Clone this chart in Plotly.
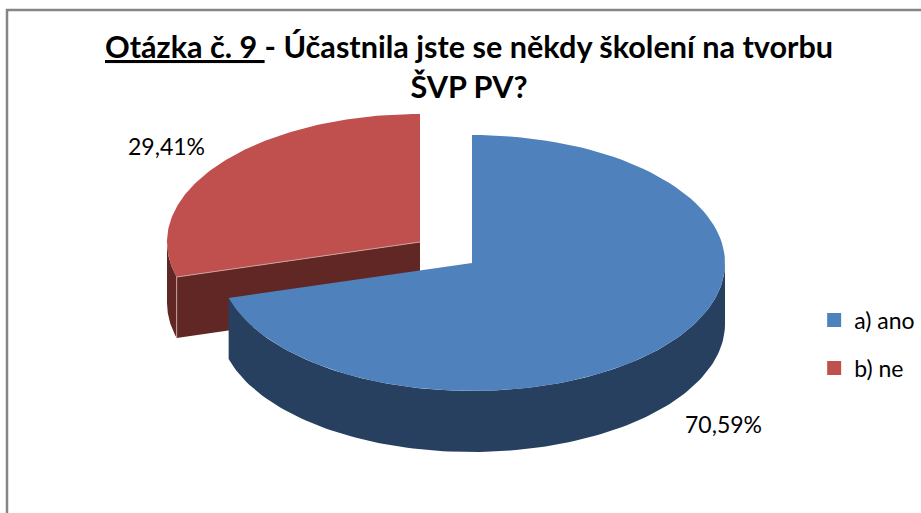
import numpy as np
import plotly.graph_objects as go

categories = ['a) ano', 'b) ne']
values = [70.59, 29.41]
top_colors = ['#4F81BD', '#C0504D']
wall_colors = ['#274060', '#612725']

# slice apex (pixels), exploded so each slice has its own centre
centers = [(472, 263), (420, 242)]
RX, RY = 253, 128
DEPTH = 61


def arc(center, start, end, drop=0):
    # angles in degrees, clockwise from twelve o'clock
    t = np.radians(np.linspace(start, end, 120))
    return center[0] + RX * np.sin(t), center[1] - RY * np.cos(t) + drop


def poly(fig, x, y, color):
    fig.add_scatter(
        x=list(x),
        y=list(y),
        mode='lines',
        fill='toself',
        fillcolor=color,
        line=dict(width=0, color=color),
        hoverinfo='skip',
        showlegend=False,
    )


split = values[0] / sum(values) * 360
blue, red = centers

fig = go.Figure()

# red slice: outer wall, cut wall, top
x1, y1 = arc(red, split, 270)
x2, y2 = arc(red, 270, split, DEPTH)
poly(fig, np.r_[x1, x2], np.r_[y1, y2], wall_colors[1])
tx, ty = arc(red, split, split)
poly(fig,
     [tx[0], red[0], red[0], tx[0]],
     [ty[0], red[1], red[1] + DEPTH, ty[0] + DEPTH],
     wall_colors[1])
x1, y1 = arc(red, split, 360)
poly(fig, np.r_[red[0], x1], np.r_[red[1], y1], top_colors[1])

# pale edge where the red wall corner and top meet
fig.add_scatter(
    x=[tx[0], tx[0], None, tx[0], red[0]],
    y=[ty[0] + DEPTH, ty[0], None, ty[0], red[1]],
    mode='lines',
    line=dict(width=1, color='#C9A09E'),
    hoverinfo='skip',
    showlegend=False,
)

# blue slice: front wall, top
x1, y1 = arc(blue, 90, split)
x2, y2 = arc(blue, split, 90, DEPTH)
poly(fig, np.r_[x1, x2], np.r_[y1, y2], wall_colors[0])
x1, y1 = arc(blue, 0, split)
poly(fig, np.r_[blue[0], x1], np.r_[blue[1], y1], top_colors[0])

# legend keys only
for name, color in zip(categories, top_colors):
    fig.add_scatter(
        x=[None],
        y=[None],
        mode='markers',
        name=name,
        legendgroup=name,
        marker=dict(symbol='square', size=14, color=color),
    )

label_pos = [(723, 424), (166, 146)]
for v, (lx, ly) in zip(values, label_pos):
    fig.add_annotation(
        x=lx, y=ly, text=f'{v:.2f}%'.replace('.', ','),
        showarrow=False, font=dict(size=23, color='#000000'),
    )

fig.add_annotation(
    x=469, y=66,
    text='<b><u>Otázka č. 9 </u>- Účastnila jste se někdy školení na tvorbu<br>ŠVP PV?</b>',
    showarrow=False,
    font=dict(size=30.6, color='#000000'),
    align='center',
)

fig.add_shape(
    type='rect', x0=7, y0=10, x1=960, y1=560,
    line=dict(color='#868686', width=2.5),
)

fig.update_layout(
    width=921,
    height=513,
    margin=dict(l=0, r=0, t=0, b=0),
    paper_bgcolor='white',
    plot_bgcolor='white',
    font=dict(family='Lato, Carlito, sans-serif'),
    xaxis=dict(range=[0, 921], visible=False),
    yaxis=dict(range=[513, 0], visible=False),
    legend=dict(
        x=0.884, y=0.418, xanchor='left', yanchor='top',
        font=dict(size=23, color='#000000'),
        tracegroupgap=15,
        itemwidth=30,
        bgcolor='rgba(0,0,0,0)',
    ),
)

fig.write_html('out.html', config=dict(displayModeBar=False),
               post_script="document.body.style.margin='0';")
